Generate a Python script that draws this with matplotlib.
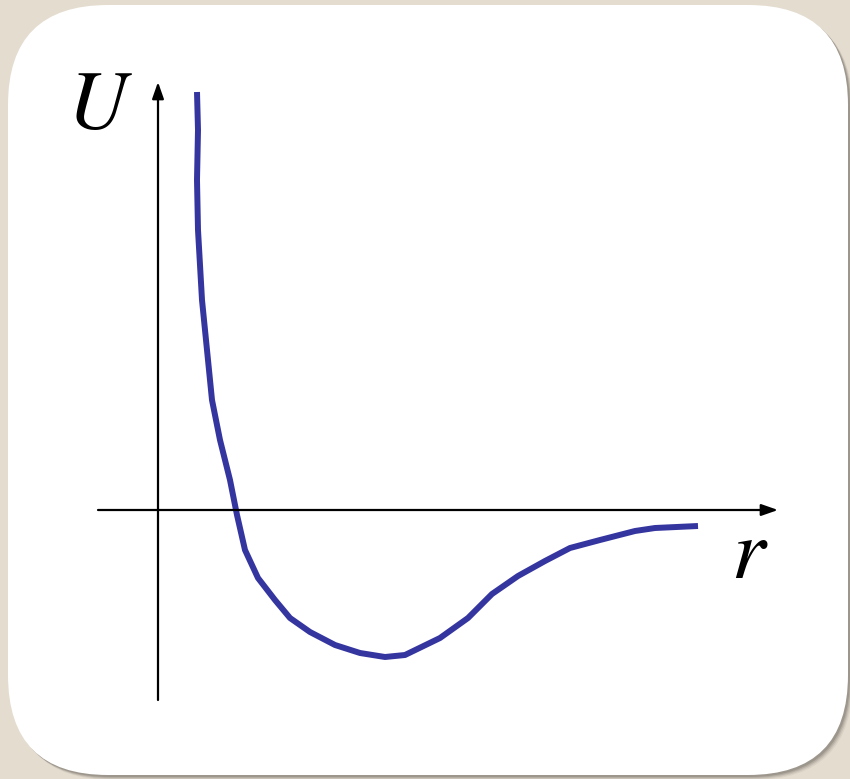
import matplotlib
matplotlib.use("Agg")
import matplotlib.pyplot as plt
from matplotlib.patches import FancyBboxPatch

plt.rcParams['mathtext.fontset'] = 'stix'

# potential curve U(r)
r = [0.39, 0.40, 0.39, 0.40, 0.44, 0.49, 0.54, 0.62, 0.72, 0.79, 0.87, 1.00, 1.17,
     1.32, 1.52, 1.77, 2.02, 2.27, 2.47, 2.82, 3.10, 3.34, 3.60, 3.87, 4.12,
     4.42, 4.77, 4.97, 5.40]
U = [4.18, 3.80, 3.30, 2.80, 2.10, 1.60, 1.10, 0.70, 0.30, -0.05, -0.40, -0.68, -0.90,
     -1.08, -1.22, -1.35, -1.43, -1.47, -1.45, -1.28, -1.08, -0.84, -0.66, -0.51, -0.38,
     -0.30, -0.21, -0.18, -0.16]

W, H = 850, 779
fig = plt.figure(figsize=(W / 100, H / 100), dpi=100)
fig.patch.set_facecolor('#e4dccf')

# card background (pixel coordinates)
bg = fig.add_axes([0, 0, 1, 1])
bg.set_xlim(0, W)
bg.set_ylim(H, 0)
bg.axis('off')
rad = 100
for i, a in enumerate([0.08, 0.12, 0.18, 0.25]):
    off = 5 - i
    bg.add_patch(FancyBboxPatch((8 + rad + off, 5 + rad + off), 840 - 2 * rad, 770 - 2 * rad,
                                boxstyle=f"round,pad={rad}", fc=(0.35, 0.33, 0.3, a), ec='none'))
bg.add_patch(FancyBboxPatch((8 + rad, 5 + rad), 840 - 2 * rad, 770 - 2 * rad,
                            boxstyle=f"round,pad={rad}", fc='white', ec='none'))

# plot axes in physical units, origin at pixel (158, 510), 100 px per unit
ax = fig.add_axes([0, 0, 1, 1])
ax.set_xlim(-1.58, 6.92)
ax.set_ylim(-2.69, 5.10)
ax.axis('off')
ax.patch.set_alpha(0)

arrow = dict(arrowstyle='-|>,head_length=1.0,head_width=0.35', color='black', lw=1.6,
             shrinkA=0, shrinkB=0)
ax.annotate('', xy=(6.20, 0), xytext=(-0.60, 0), arrowprops=arrow)
ax.annotate('', xy=(0, 4.28), xytext=(0, -1.90), arrowprops=arrow)

ax.plot(r, U, color='#3535a0', lw=4.3, solid_joinstyle='round', solid_capstyle='butt')

ax.text(-0.58, 4.06, '$U$', fontsize=60, ha='center', va='center')
ax.text(5.92, -0.45, '$r$', fontsize=62, ha='center', va='center')

fig.savefig('out.png', dpi=100, facecolor=fig.get_facecolor())
